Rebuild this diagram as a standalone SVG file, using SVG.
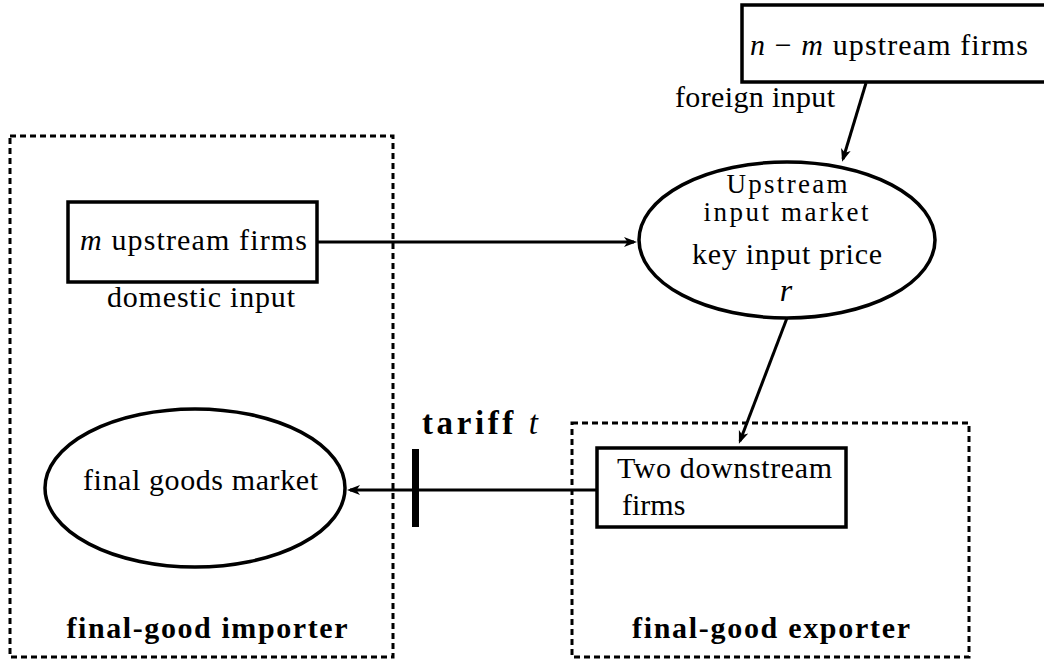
<svg xmlns="http://www.w3.org/2000/svg" width="1044" height="662" viewBox="0 0 1044 662">
<style>
text{font-size:30px;fill:#000}
.b{font-weight:bold}
.i{font-style:italic}
.sm{font-size:27px}
.big{font-size:32px}
.tar{font-size:33px}
.box{fill:#fff;stroke:#000;stroke-width:3.5}
.ell{fill:#fff;stroke:#000;stroke-width:3.5}
.dash{fill:none;stroke:#000;stroke-width:3;stroke-dasharray:6 4}
.conn{fill:none;stroke:#000;stroke-width:3}
</style>
<defs>
<marker id="ah" markerUnits="userSpaceOnUse" markerWidth="14" markerHeight="12" refX="10" refY="5" orient="auto" viewBox="0 0 14 10">
<path d="M0,0 L13,5 L0,10 L3.5,5 Z" fill="#000"/>
</marker>
</defs>
<rect width="1044" height="662" fill="#fff"/>
<g font-family="'Liberation Serif', 'DejaVu Serif', serif">

<g id="importer-region">
<rect class="dash" x="10" y="136" width="383" height="521"/>
<text class="b" x="207" y="638" text-anchor="middle" textLength="281" lengthAdjust="spacing">final-good importer</text>
</g>
<g id="exporter-region">
<rect class="dash" x="572" y="423" width="397" height="234"/>
<text class="b" x="771" y="638" text-anchor="middle" textLength="278" lengthAdjust="spacing">final-good exporter</text>
</g>

<g id="connectors">
<line class="conn" x1="866" y1="83" x2="843" y2="159" marker-end="url(#ah)"/>
<line class="conn" x1="317" y1="242" x2="634" y2="242" marker-end="url(#ah)"/>
<line class="conn" x1="787" y1="318" x2="740" y2="441" marker-end="url(#ah)"/>
<line class="conn" x1="597" y1="490" x2="350" y2="490" marker-end="url(#ah)"/>
</g>

<g id="foreign-firms">
<rect class="box" x="742" y="5" width="320" height="77"/>
<text x="750" y="55" textLength="278" lengthAdjust="spacing"><tspan class="i">n</tspan> − <tspan class="i">m</tspan> upstream firms</text>
<text x="675" y="107" textLength="160" lengthAdjust="spacing">foreign input</text>
</g>

<g id="upstream-market">
<ellipse class="ell" cx="787" cy="240" rx="148" ry="78"/>
<text class="sm" x="787" y="193" text-anchor="middle" textLength="121" lengthAdjust="spacing">Upstream</text>
<text class="sm" x="786" y="221" text-anchor="middle" textLength="165" lengthAdjust="spacing">input market</text>
<text x="787" y="264" text-anchor="middle" textLength="190" lengthAdjust="spacing">key input price</text>
<text class="i big" x="786" y="301" text-anchor="middle">r</text>
</g>

<g id="domestic-firms">
<rect class="box" x="68" y="202" width="249" height="80"/>
<text x="80" y="250" textLength="227" lengthAdjust="spacing"><tspan class="i">m</tspan> upstream firms</text>
<text x="107" y="307" textLength="188" lengthAdjust="spacing">domestic input</text>
</g>

<g id="final-goods-market">
<ellipse class="ell" cx="195" cy="488" rx="150" ry="79"/>
<text x="83" y="490" textLength="235" lengthAdjust="spacing">final goods market</text>
</g>

<g id="downstream-firms">
<rect class="box" x="597" y="448" width="249" height="79"/>
<text x="617" y="478" textLength="215" lengthAdjust="spacing">Two downstream</text>
<text x="622" y="515">firms</text>
</g>

<g id="tariff">
<rect x="412" y="449" width="7" height="78" fill="#000"/>
<text class="tar" x="422" y="434" textLength="116" lengthAdjust="spacing"><tspan class="b">tariff</tspan> <tspan class="i">t</tspan></text>
</g>
</g>
</svg>
